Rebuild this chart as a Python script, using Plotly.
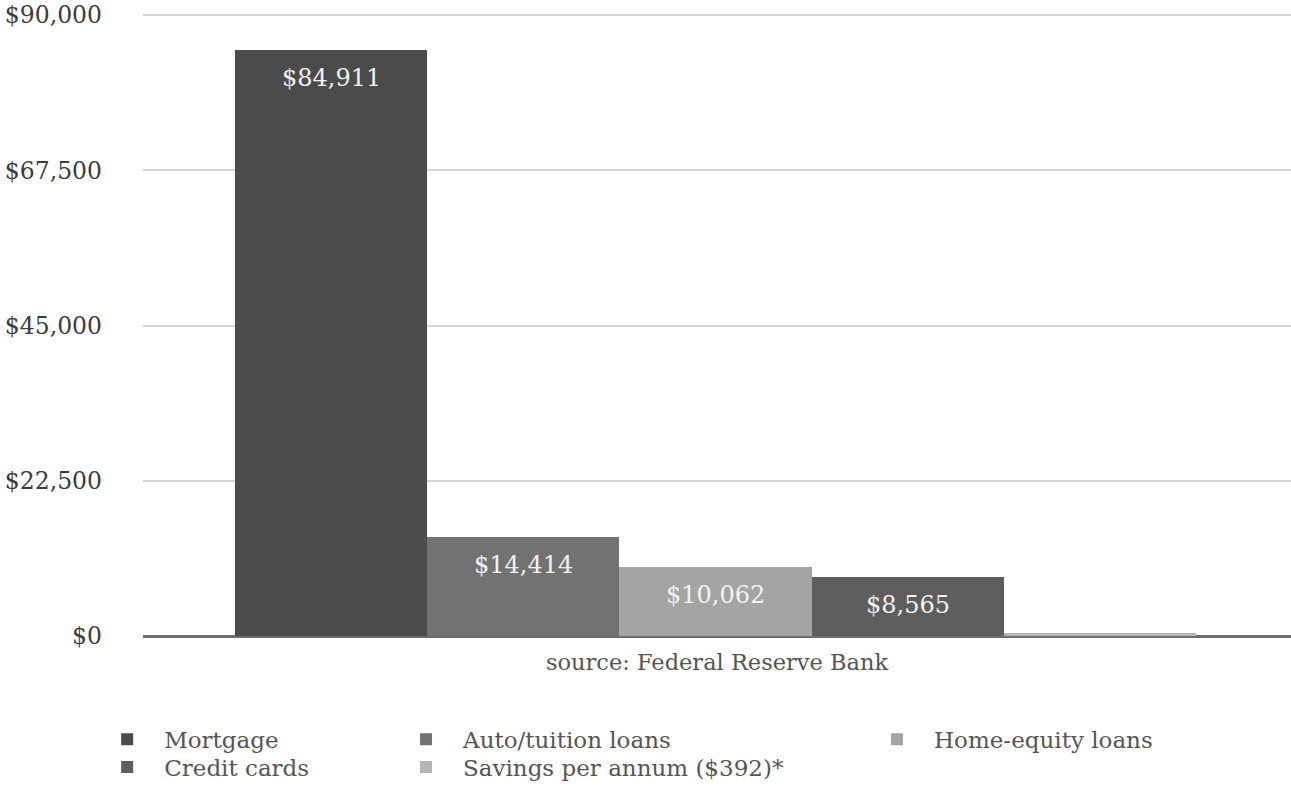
import plotly.graph_objects as go

categories = ["Mortgage", "Auto/tuition loans", "Home-equity loans", "Credit cards", "Savings per annum ($392)*"]
values = [84911, 14414, 10062, 8565, 392]
show_label = [True, True, True, True, False]
colors = ["#4b4b4b", "#727272", "#a4a4a4", "#5e5e5e", "#b5b5b5"]
legend_ids = ["legend", "legend2", "legend3", "legend4", "legend5"]
y_ticks = [0, 22500, 45000, 67500, 90000]
source_text = "source: Federal Reserve Bank"

SERIF = "DejaVu Serif"

fig = go.Figure()
for name, v, c, lg in zip(categories, values, colors, legend_ids):
    fig.add_trace(go.Bar(
        x=[name], y=[v], name=name,
        marker=dict(color=c, line=dict(width=0)),
        legend=lg, showlegend=True,
        hoverinfo="name+y",
    ))

for name, v, show in zip(categories, values, show_label):
    if show:
        fig.add_annotation(
            x=name, y=v, xref="x", yref="y", text=f"${v:,}",
            showarrow=False, yanchor="middle", yshift=-28,
            font=dict(family=SERIF, size=24, color="#f2f2f2"),
        )

legend_common = dict(
    orientation="v", yanchor="top", xanchor="left",
    font=dict(family=SERIF, size=23, color="#555555"),
    bgcolor="rgba(0,0,0,0)", itemwidth=64, tracegroupgap=0,
)

ROW1, ROW2 = -0.1314, -0.176
COL1, COL2, COL3 = -0.046, 0.2143, 0.6246

fig.update_layout(
    width=1291, height=793,
    margin=dict(l=143, r=0, t=14, b=157, autoexpand=False),
    paper_bgcolor="white", plot_bgcolor="white",
    barmode="overlay", bargap=0,
    showlegend=True,
    legend=dict(x=COL1, y=ROW1, **legend_common),
    legend2=dict(x=COL2, y=ROW1, **legend_common),
    legend3=dict(x=COL3, y=ROW1, **legend_common),
    legend4=dict(x=COL1, y=ROW2, **legend_common),
    legend5=dict(x=COL2, y=ROW2, **legend_common),
    xaxis=dict(
        type="category", categoryorder="array", categoryarray=categories,
        range=[-0.979, 4.994],
        showticklabels=False, showgrid=False, zeroline=False, showline=False,
        automargin=False,
        title=dict(text=source_text, font=dict(family=SERIF, size=22.5, color="#555555"), standoff=18),
    ),
    yaxis=dict(
        range=[0, 90150], tickvals=y_ticks, ticktext=[f"${t:,}" for t in y_ticks],
        showgrid=True, gridcolor="#d4d4d4", gridwidth=1.5,
        zeroline=True, zerolinecolor="#6e6e6e", zerolinewidth=3,
        tickfont=dict(family=SERIF, size=23.5, color="#3c3c3c"),
        ticks="", ticklabelstandoff=40, automargin=False,
        ticklabeloverflow="allow",
    ),
)

fig.write_html("out.html")
